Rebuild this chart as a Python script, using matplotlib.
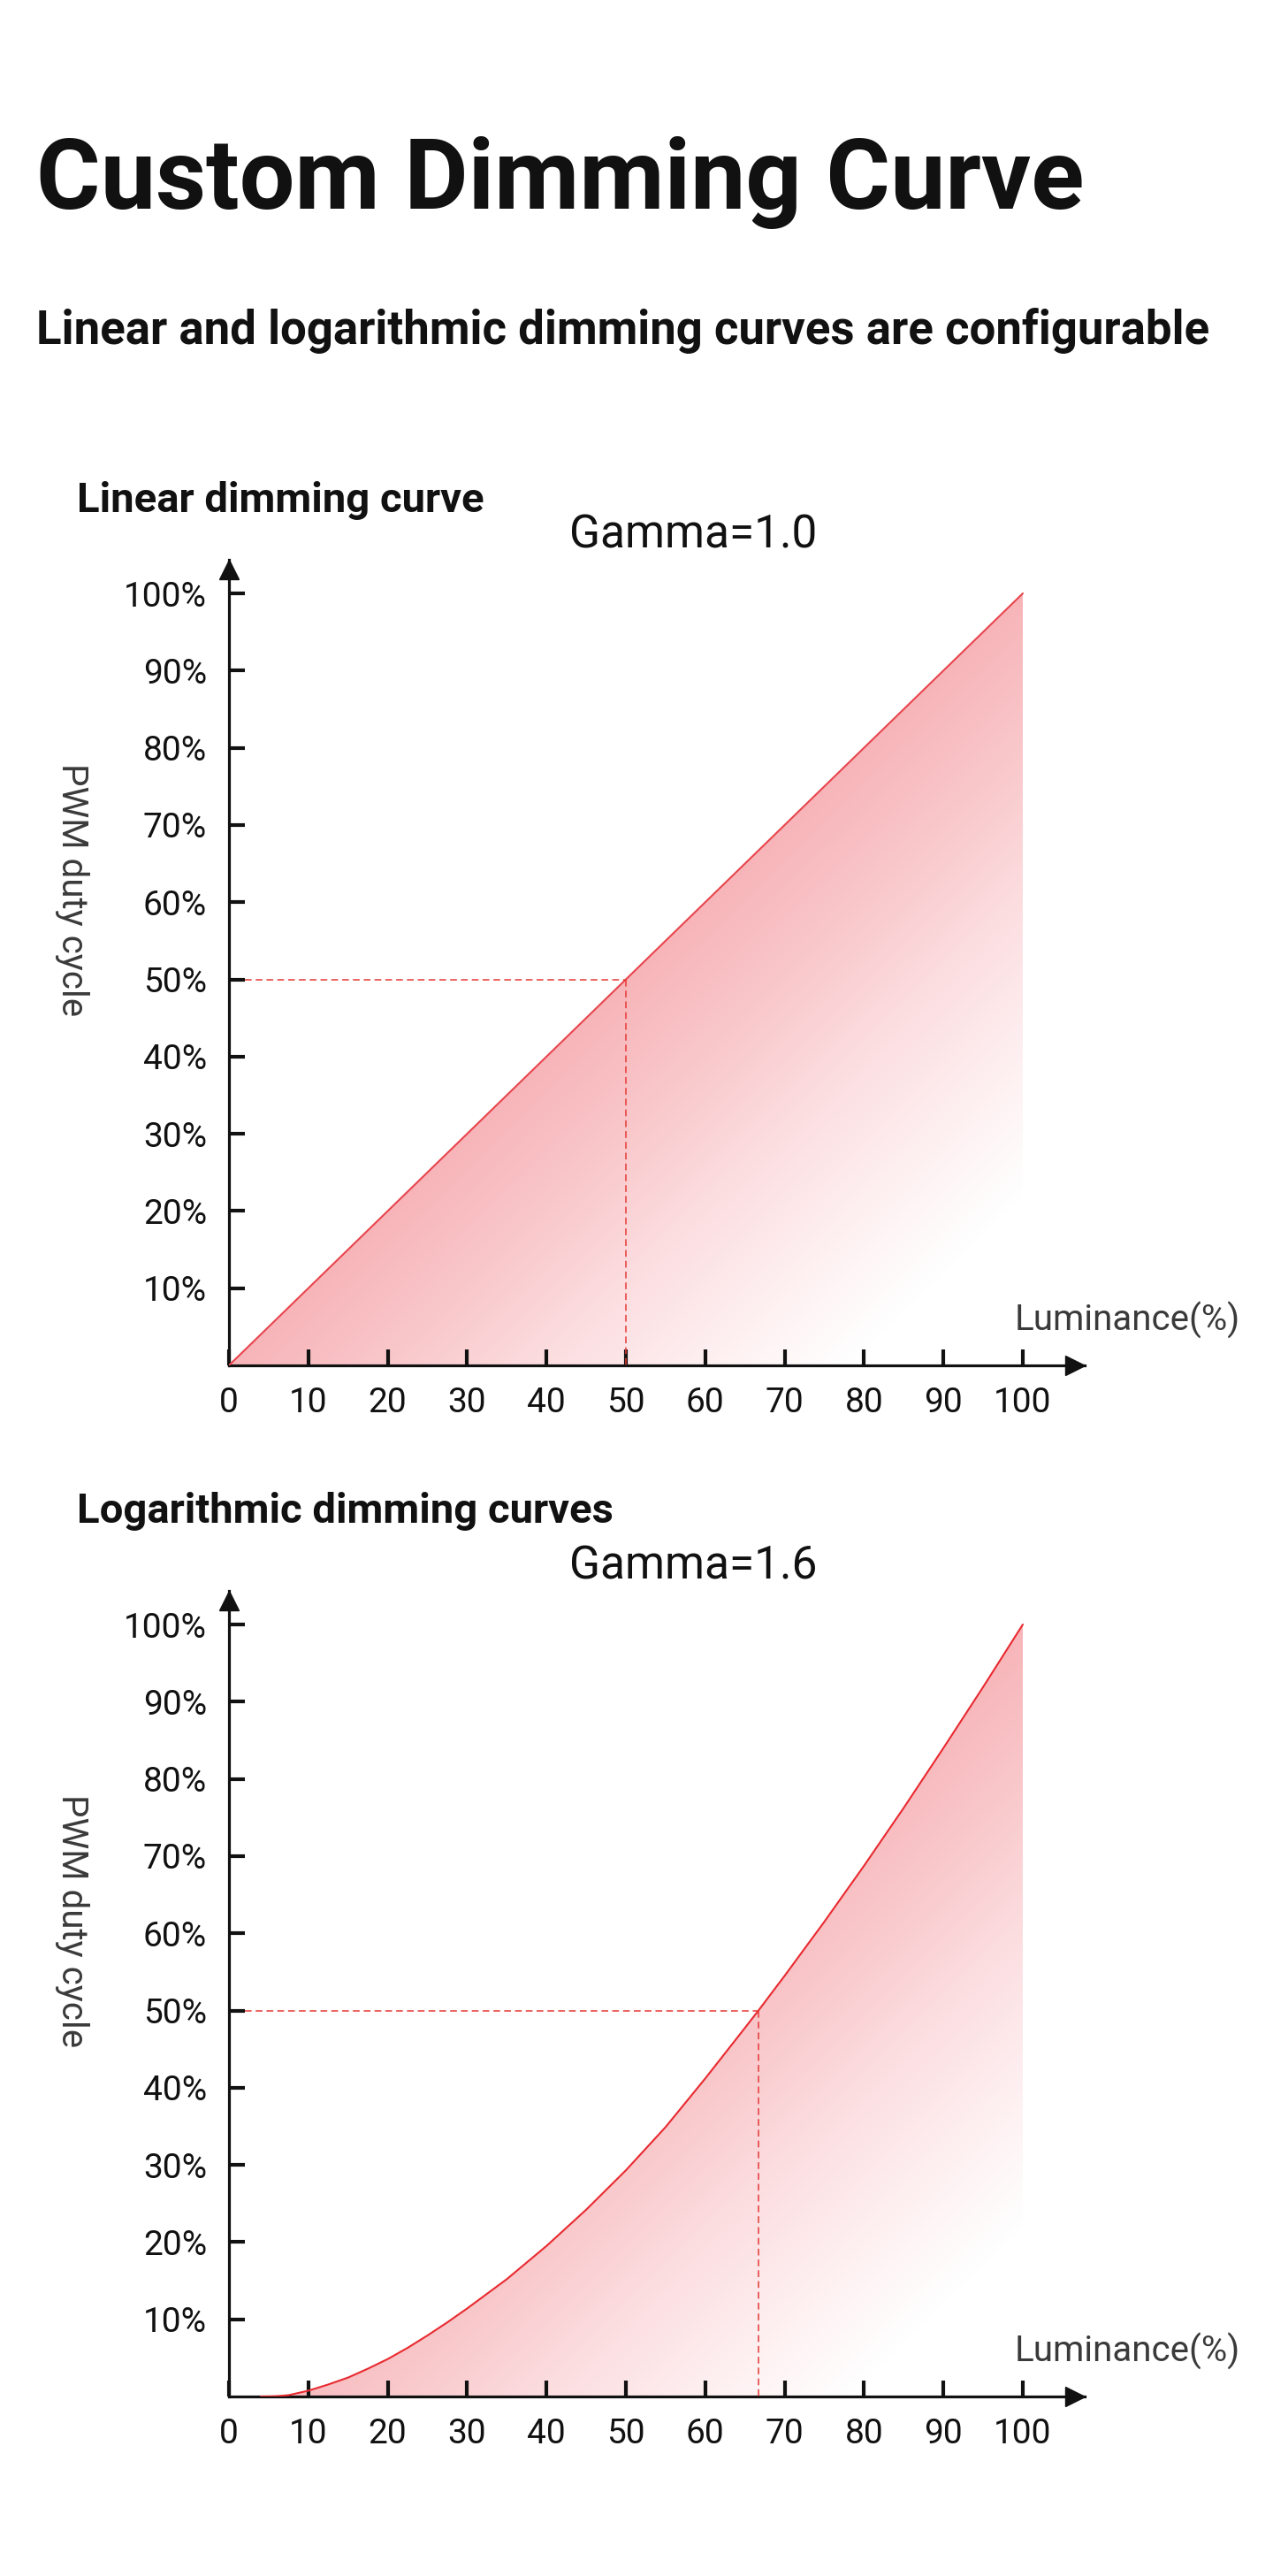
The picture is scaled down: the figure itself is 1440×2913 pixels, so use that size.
import numpy as np
import matplotlib
matplotlib.use("Agg")
import matplotlib.pyplot as plt
from matplotlib.colors import LinearSegmentedColormap
from matplotlib.patches import Polygon

plt.rcParams['font.family'] = ['Roboto', 'DejaVu Sans']

W, H = 1440, 2913

# chart data
x_ticks = [0, 10, 20, 30, 40, 50, 60, 70, 80, 90, 100]
y_ticks = [10, 20, 30, 40, 50, 60, 70, 80, 90, 100]

linear_x = [0, 100]
linear_y = [0, 100]
linear_mark = (50, 50)

gamma_x = [4, 5, 6, 7.5, 10, 12.5, 15, 17.5, 20, 22.5, 25, 27.5, 30, 35, 40, 45,
           50, 55, 60, 65, 66.7, 70, 75, 80, 85, 90, 95, 100]
gamma_y = [0, 0.01, 0.04, 0.17, 0.75, 1.55, 2.45, 3.6, 4.85, 6.3, 7.9, 9.6, 11.4,
           15.2, 19.5, 24.2, 29.3, 34.9, 41.2, 47.75, 50.0, 54.5, 61.5, 68.75, 76.25,
           84.0, 91.9, 100]
gamma_mark = (66.7, 50)

charts = [
    dict(title="Linear dimming curve", gamma="Gamma=1.0", x=linear_x, y=linear_y,
         mark=linear_mark, color="#e8454d", top=0, title_y=579),
    dict(title="Logarithmic dimming curves", gamma="Gamma=1.6", x=gamma_x, y=gamma_y,
         mark=gamma_mark, color="#e82a30", top=1166, title_y=1722),
]

TXT = "#111111"
GREY = "#3a3a3a"

fill_cmap = LinearSegmentedColormap.from_list(
    "pinkfade", [(0.0, "#f7b5b9"), (0.2, "#f9c8cb"), (0.4, "#fcdee1"),
                 (0.6, "#fef0f1"), (0.78, "#ffffff"), (1.0, "#ffffff")])


def fx(px):
    return px / W


def fy(py):
    return 1 - py / H


fig = plt.figure(figsize=(W / 100, H / 100), dpi=100)
fig.patch.set_facecolor("white")

fig.text(fx(41), fy(236), "Custom Dimming Curve", fontsize=80, fontweight="bold",
         color=TXT, va="baseline", ha="left")
fig.text(fx(41), fy(389), "Linear and logarithmic dimming curves are configurable",
         fontsize=38, fontweight="bold", color=TXT, va="baseline", ha="left")

# pixel geometry of the first chart
X0, X100 = 259, 1157
Y0, Y100 = 1544, 671
XTIP, YTIP = 1227, 633
ppx = (X100 - X0) / 100.0
ppy = (Y0 - Y100) / 100.0

for c in charts:
    off = c["top"]
    y0, ytip = Y0 + off, YTIP + off
    xmax = (XTIP - X0) / ppx
    ymax = (y0 - ytip) / ppy

    fig.text(fx(87), fy(c["title_y"]), c["title"], fontsize=34,
             fontweight="bold", color=TXT, va="baseline", ha="left")
    fig.text(fx(784), fy(619 + off), c["gamma"], fontsize=37, color=TXT,
             va="baseline", ha="center")

    ax = fig.add_axes([fx(X0), fy(y0), (XTIP - X0) / W, (y0 - ytip) / H])
    ax.set_xlim(0, xmax)
    ax.set_ylim(0, ymax)
    ax.patch.set_alpha(0)
    for s in ["top", "right"]:
        ax.spines[s].set_visible(False)
    for s in ["left", "bottom"]:
        ax.spines[s].set_linewidth(2.3)
        ax.spines[s].set_color(TXT)

    # arrow heads
    ax.plot(xmax - 11 / ppx, 0, marker=">", ms=16, color=TXT, clip_on=False, zorder=6)
    ax.plot(0, ymax - 11 / ppy, marker="^", ms=16, color=TXT, clip_on=False, zorder=6)

    ax.set_xticks(x_ticks)
    ax.set_xticklabels([str(v) for v in x_ticks])
    ax.set_yticks(y_ticks)
    ax.set_yticklabels([f"{v}%" for v in y_ticks])
    ax.tick_params(axis="both", direction="in", length=13, width=3, color=TXT,
                   labelsize=28, labelcolor=TXT)
    ax.tick_params(axis="y", pad=18)
    ax.tick_params(axis="x", pad=17)

    xs = np.array(c["x"], dtype=float)
    ys = np.array(c["y"], dtype=float)

    # gradient fill under the curve
    verts = np.column_stack([np.r_[xs, xs[-1], xs[0]], np.r_[ys, 0, 0]])
    poly = Polygon(verts, closed=True, facecolor="none", edgecolor="none")
    ax.add_patch(poly)
    gx, gy = np.meshgrid(np.linspace(0, 100, 400), np.linspace(0, 100, 400))
    shade = np.clip((gx - gy) / 100.0, 0, 1)
    img = ax.imshow(shade, extent=[0, 100, 0, 100], origin="lower", cmap=fill_cmap,
                    vmin=0, vmax=1, aspect="auto", interpolation="bilinear", zorder=1)
    img.set_clip_path(poly)

    ax.plot(xs, ys, color=c["color"], lw=1.5, zorder=3, solid_capstyle="round",
            solid_joinstyle="round")

    mx, my = c["mark"]
    ax.plot([2, mx], [my, my], color="#e53935", lw=1.1, ls=(0, (5, 3)), zorder=3)
    ax.plot([mx, mx], [my, 0], color="#e53935", lw=1.1, ls=(0, (5, 3)), zorder=3)

    fig.text(fx(81), fy(1006 + off), "PWM duty cycle", fontsize=29, fontweight="normal",
             color=GREY, rotation=-90, ha="center", va="center")
    fig.text(fx(1148), fy(1505 + off), "Luminance(%)", fontsize=29, fontweight="normal",
             color=GREY, ha="left", va="baseline")

fig.savefig("out.png", dpi=100, facecolor="white")
